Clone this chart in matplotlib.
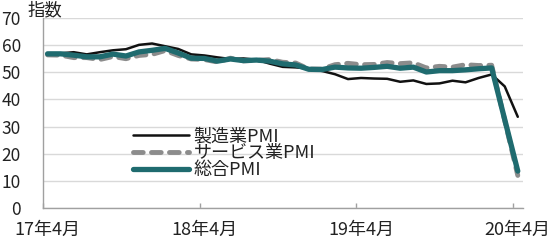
import matplotlib
matplotlib.use("Agg")
import matplotlib.pyplot as plt
import numpy as np

plt.rcParams['font.family'] = ['Noto Sans CJK JP', 'DejaVu Sans']

# Monthly, 2017-04 .. 2020-04
manufacturing = [56.7, 57.0, 57.4, 56.6, 57.4, 58.1, 58.5, 60.1, 60.6,
                 59.6, 58.6, 56.6, 56.2, 55.5, 54.9, 55.1, 54.6, 53.2, 52.0, 51.8, 51.4,
                 50.5, 49.3, 47.5, 47.9, 47.7, 47.6, 46.5, 47.0, 45.7, 45.9, 46.9, 46.3,
                 47.9, 49.2, 44.8, 33.6]
services = [56.4, 56.3, 55.4, 55.4, 54.7, 55.8, 55.0, 56.2, 56.6,
            58.0, 56.2, 54.9, 54.7, 53.8, 55.2, 54.2, 54.4, 54.7, 53.7, 53.4, 51.2,
            51.2, 52.8, 53.3, 52.8, 52.9, 53.6, 53.2, 53.5, 51.6, 52.2, 51.9, 52.8,
            52.5, 52.6, 32.3, 12.0]
composite = [56.8, 56.8, 56.3, 55.7, 55.7, 56.7, 56.0, 57.5, 58.1,
             58.8, 57.1, 55.2, 55.1, 54.1, 54.9, 54.3, 54.5, 54.1, 53.1, 52.7, 51.1,
             51.0, 51.9, 51.6, 51.5, 51.8, 52.2, 51.5, 51.9, 50.1, 50.6, 50.6, 50.9,
             51.3, 51.6, 32.6, 13.6]
series_names = ['製造業PMI', 'サービス業PMI', '総合PMI']
xtick_labels = ['17年4月', '18年4月', '19年4月', '20年4月']
xtick_index = [0, 12, 24, 36]
yticks = [0, 10, 20, 30, 40, 50, 60, 70]

x = np.arange(len(composite))

fig = plt.figure(figsize=(5.5, 2.41), dpi=100)
ax = fig.add_axes([43/550, 1-208/241, 480/550, 190/241])

ax.plot(x, manufacturing, color='#111111', lw=1.8, label=series_names[0],
        solid_capstyle='round', zorder=3)
ax.plot(x, services, color='#8C8C8C', lw=3.5, label=series_names[1],
        dashes=(2.0, 1.7), dash_capstyle='round', zorder=2)
ax.plot(x, composite, color='#1F6B6F', lw=3.8, label=series_names[2],
        solid_capstyle='round', zorder=4)

ax.set_xlim(-0.3, 36.4)
ax.set_ylim(0, 70)
ax.set_yticks(yticks)
ax.set_yticklabels([str(v) for v in yticks], fontsize=12.5, color='#222222')
ax.tick_params(axis='y', length=0, pad=16)

ax.set_xticks(xtick_index)
ax.set_xticklabels(xtick_labels, fontsize=13, color='#222222')
ax.tick_params(axis='x', which='major', length=0, pad=9)
ax.set_xticks([i - 0.35 for i in xtick_index], minor=True)
ax.tick_params(axis='x', which='minor', direction='in', length=3.5,
               color='#A0A0A0', width=1)

ax.grid(axis='y', color='#D9D9D9', lw=1)
ax.set_axisbelow(True)
for s in ['top', 'right']:
    ax.spines[s].set_visible(False)
for s in ['left', 'bottom']:
    ax.spines[s].set_color('#A0A0A0')
    ax.spines[s].set_linewidth(1)

fig.text(27/550, 1-10/241, '指数', fontsize=12.5, va='center', ha='left',
         color='#222222')

leg = ax.legend(loc='center left', bbox_to_anchor=(133/550, 1-153/241),
                bbox_transform=fig.transFigure, frameon=False, fontsize=13,
                handlelength=3.1, handletextpad=0.25, labelspacing=-0.05,
                borderpad=0, borderaxespad=0)
for t in leg.get_texts():
    t.set_color('#222222')

fig.savefig('out.png', dpi=100)
